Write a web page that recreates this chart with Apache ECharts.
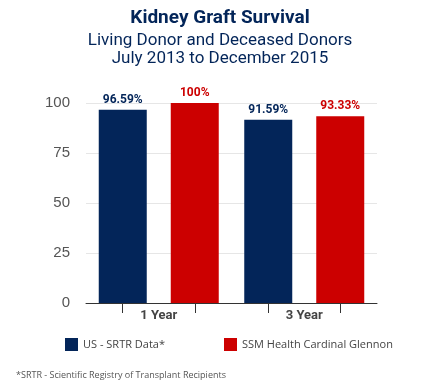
<!DOCTYPE html>
<html><head><meta charset="utf-8">
<script src="https://cdn.jsdelivr.net/npm/echarts@6/dist/echarts.min.js"></script>
<style>html,body{margin:0;padding:0;background:#fff}#c{width:430px;height:380px}</style>
</head><body><div id="c"></div>
<script>
const categories = ['1 Year', '3 Year'];
const seriesNames = ['US - SRTR Data*', 'SSM Health Cardinal Glennon'];
const usValues = [96.59, 91.59];
const ssmValues = [100, 93.33];
const usLabels = ['96.59%', '91.59%'];
const ssmLabels = ['100%', '93.33%'];
const yTicks = [0, 25, 50, 75, 100];
const tickSlots = ['a', 'b', 'c', 'd'];

const NAVY = '#032559';
const RED = '#cc0000';
const chart = echarts.init(document.getElementById('c'), null, {renderer: 'canvas'});
chart.setOption({
  animation: false,
  backgroundColor: '#fff',
  title: [
    {text: 'Kidney Graft Survival', left: 215, top: 4, textAlign: 'center',
     textStyle: {fontFamily: 'Roboto', fontSize: 19, fontWeight: 'bold', color: NAVY}},
    {text: 'Living Donor and Deceased Donors\nJuly 2013 to December 2015', left: 215, top: 27, textAlign: 'center',
     textStyle: {fontFamily: 'Roboto', fontSize: 17, fontWeight: 'normal', color: NAVY, lineHeight: 18}},
    {text: '*SRTR - Scientific Registry of Transplant Recipients', left: 11, top: 366,
     textStyle: {fontFamily: 'Open Sans', fontSize: 9, fontWeight: 'normal', color: '#555'}}
  ],
  legend: {
    left: 60, top: 333, itemWidth: 13, itemHeight: 13, itemGap: 59,
    icon: 'rect',
    textStyle: {fontFamily: 'Open Sans', fontSize: 11, color: '#444'},
    data: seriesNames
  },
  grid: {left: 86, right: 53, top: 103, bottom: 77, containLabel: false},
  xAxis: [
    {type: 'category', data: categories,
     axisLine: {lineStyle: {color: '#333', width: 1}},
     axisTick: {show: false},
     axisLabel: {fontFamily: 'Roboto', fontSize: 13, fontWeight: 'bold', color: '#444', margin: 6}},
    {type: 'category', data: tickSlots, position: 'bottom', gridIndex: 0,
     axisLine: {show: false},
     axisTick: {show: true, alignWithLabel: true, length: 10, lineStyle: {color: '#333'}},
     axisLabel: {show: false}}
  ],
  yAxis: {
    type: 'value', min: 0, max: 100, interval: 25,
    axisLine: {show: false}, axisTick: {show: false},
    splitLine: {lineStyle: {color: '#e6e6e6'}},
    axisLabel: {fontFamily: 'Liberation Sans', fontSize: 15, color: '#555', margin: 16,
      formatter: v => yTicks.includes(v) ? String(v) : ''}
  },
  series: [
    {name: seriesNames[0], type: 'bar', xAxisIndex: 0, barWidth: 48, barGap: '50%',
     itemStyle: {color: NAVY},
     data: usValues,
     label: {show: true, position: 'top', distance: 4, fontFamily: 'Roboto', fontSize: 12, fontWeight: 'bold', color: NAVY,
       formatter: p => usLabels[p.dataIndex]}},
    {name: seriesNames[1], type: 'bar', xAxisIndex: 0, barWidth: 48, barGap: '50%',
     itemStyle: {color: RED},
     data: ssmValues,
     label: {show: true, position: 'top', distance: 4, fontFamily: 'Roboto', fontSize: 12, fontWeight: 'bold', color: RED,
       formatter: p => ssmLabels[p.dataIndex]}}
  ]
});
</script></body></html>
